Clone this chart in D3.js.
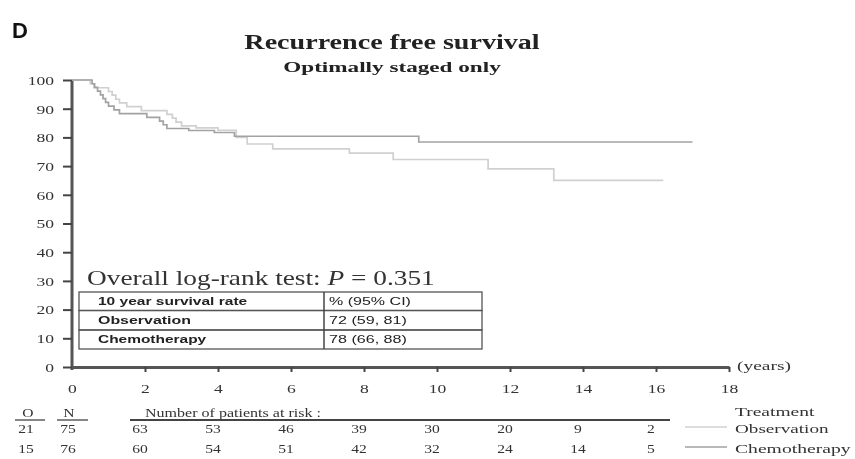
<!DOCTYPE html>
<html>
<head>
<meta charset="utf-8">
<script src="https://cdn.jsdelivr.net/npm/d3@7"></script>
<style>
  body { margin: 0; background: #fff; }
  svg { display: block; filter: blur(0.6px); }
  .serif { font-family: "Liberation Serif", "Times New Roman", serif; fill: #333; }
  .sans { font-family: "Liberation Sans", Arial, sans-serif; fill: #222; }
</style>
</head>
<body>
<div class="km"></div>
<script>
// values
const yTicks = [0, 10, 20, 30, 40, 50, 60, 70, 80, 90, 100]
const xTicks = [0, 2, 4, 6, 8, 10, 12, 14, 16, 18]

const chemoTimes = [0, 0.55, 0.62, 0.7, 0.78, 0.85, 0.92, 1.0, 1.15, 1.3, 2.05, 2.4, 2.5, 2.6, 3.2, 3.9, 4.45, 9.5, 17.0]
const chemoSurv  = [100, 98.7, 97.4, 96.1, 94.8, 93.5, 92.2, 90.9, 89.6, 88.3, 87.0, 85.7, 84.4, 83.1, 82.4, 81.7, 80.4, 78.4, 78.4]

const obsTimes = [0, 0.5, 0.6, 1.0, 1.1, 1.2, 1.3, 1.5, 1.9, 2.6, 2.75, 2.85, 3.0, 3.4, 4.0, 4.5, 4.8, 5.5, 7.6, 8.8, 11.4, 13.2, 16.2]
const obsSurv  = [100, 98.7, 97.3, 96.0, 94.7, 93.3, 92.0, 90.7, 89.3, 88.0, 86.7, 85.3, 84.0, 83.3, 82.5, 80.0, 77.7, 76.0, 74.5, 72.3, 69.0, 65.0, 65.0]

const riskTimes = [2, 4, 6, 8, 10, 12, 14, 16]
const obsAtRisk = [63, 53, 46, 39, 30, 20, 9, 2]
const chemoAtRisk = [60, 54, 51, 42, 32, 24, 14, 5]

const groups = ["Observation", "Chemotherapy"]
const groupEvents = [21, 15]
const groupN = [75, 76]
const groupColours = ["#d0d0d0", "#a2a2a2"]

const rateHeader = ["10 year survival rate", "% (95% CI)"]
const rates = ["72 (59, 81)", "78 (66, 88)"]

const width = 855, height = 459

const svg = d3.select(".km").append("svg")
    .attr("width", width)
    .attr("height", height)

const x = d3.scaleLinear().domain([0, 18]).range([72, 729])
const y = d3.scaleLinear().domain([0, 100]).range([367, 80])

// the picture is stretched sideways, so stretch the text to the same width
function fit(t, w) {
  const bw = t.node().getBBox().width
  const ax = +t.attr("x"), ay = +t.attr("y")
  t.attr("transform", "translate(" + ax + "," + ay + ") scale(" + (w / bw) + ",1) translate(" + (-ax) + "," + (-ay) + ")")
  return t
}
function stretch(t, sx) {
  const ax = +t.attr("x") || 0, ay = +t.attr("y") || 0
  t.attr("transform", "translate(" + ax + "," + ay + ") scale(" + sx + ",1) translate(" + (-ax) + "," + (-ay) + ")")
  return t
}

// titles
svg.append("text").attr("class", "sans")
    .attr("x", 12).attr("y", 38)
    .style("font-size", "22px").style("font-weight", "bold").style("fill", "#111")
    .text("D")

fit(svg.append("text").attr("class", "serif")
    .attr("x", 392).attr("y", 49).attr("text-anchor", "middle")
    .style("font-size", "20px").style("font-weight", "bold").style("fill", "#222")
    .text("Recurrence free survival"), 296)

fit(svg.append("text").attr("class", "serif")
    .attr("x", 392).attr("y", 72).attr("text-anchor", "middle")
    .style("font-size", "15.5px").style("font-weight", "bold").style("fill", "#222")
    .text("Optimally staged only"), 218)

// axes
const yAxis = d3.axisLeft(y).tickValues(yTicks).tickSize(9).tickPadding(9).tickSizeOuter(0)
const xAxis = d3.axisBottom(x).tickValues(xTicks).tickSize(5).tickPadding(11).tickSizeOuter(0)

const gy = svg.append("g").attr("transform", "translate(" + x(0) + ",0)").call(yAxis)
const gx = svg.append("g").attr("transform", "translate(0," + y(0) + ")").call(xAxis)

gy.select(".domain").attr("stroke", "#555").attr("stroke-width", 3).attr("d", "M0," + (y(0) + 3) + "V" + y(100))
gx.select(".domain").attr("stroke", "#555").attr("stroke-width", 3)
gy.selectAll(".tick line").attr("stroke", "#444").attr("stroke-width", 2)
gx.selectAll(".tick line").attr("stroke", "#444").attr("stroke-width", 2)
gx.selectAll(".tick line").filter(function(d) { return d === 0 }).remove()
svg.selectAll(".tick text")
    .attr("class", "serif")
    .style("font-size", "13.5px")
    .attr("fill", "#333")
    .each(function() { stretch(d3.select(this), 1.3) })

fit(svg.append("text").attr("class", "serif")
    .attr("x", x(18) + 8).attr("y", y(0) + 3)
    .style("font-size", "12px")
    .text("(years)"), 54)

// survival curves
const line = d3.line()
    .x(function(d) { return x(d[0]) })
    .y(function(d) { return y(d[1]) })
    .curve(d3.curveStepAfter)

const curves = [d3.zip(obsTimes, obsSurv), d3.zip(chemoTimes, chemoSurv)]
svg.selectAll(".curve").data(curves).enter().append("path")
    .attr("class", "curve")
    .attr("d", line)
    .attr("fill", "none")
    .attr("stroke", function(d, i) { return groupColours[i] })
    .attr("stroke-width", 1.7)

// log-rank text and rate box
const lr = svg.append("text").attr("class", "serif")
    .attr("x", 87).attr("y", 285)
    .style("font-size", "20px")
lr.append("tspan").text("Overall log-rank test: ")
lr.append("tspan").style("font-style", "italic").text("P")
lr.append("tspan").text(" = 0.351")
fit(lr, 348)

const box = { x0: 79, x1: 482, xm: 324, top: 292 }
const rowH = [18.5, 19.5, 19]
const leftW = [150, 93, 109]
const rightW = [82, 78, 78]
const rows = [rateHeader].concat(groups.map(function(g, i) { return [g, rates[i]] }))
let yy = box.top
rows.forEach(function(r, i) {
  svg.append("rect")
      .attr("x", box.x0).attr("y", yy)
      .attr("width", box.x1 - box.x0).attr("height", rowH[i])
      .attr("fill", "none").attr("stroke", "#555").attr("stroke-width", 1.3)
  fit(svg.append("text").attr("class", "sans")
      .attr("x", 98).attr("y", yy + rowH[i] / 2 + 3.5)
      .style("font-size", "10px").style("font-weight", "bold")
      .text(r[0]), leftW[i])
  fit(svg.append("text").attr("class", "sans")
      .attr("x", 329).attr("y", yy + rowH[i] / 2 + 3.5)
      .style("font-size", "10px")
      .text(r[1]), rightW[i])
  yy += rowH[i]
})
svg.append("line")
    .attr("x1", box.xm).attr("x2", box.xm)
    .attr("y1", box.top).attr("y2", yy)
    .attr("stroke", "#444").attr("stroke-width", 1.5)

// numbers at risk
const rowY = [433, 453]
const numSx = 1.2
stretch(svg.append("text").attr("class", "serif").attr("x", 28).attr("y", 417)
    .attr("text-anchor", "middle").style("font-size", "13px").text("O"), numSx)
stretch(svg.append("text").attr("class", "serif").attr("x", 69).attr("y", 417)
    .attr("text-anchor", "middle").style("font-size", "13px").text("N"), numSx)
svg.append("line").attr("x1", 15).attr("x2", 45).attr("y1", 420).attr("y2", 420)
    .attr("stroke", "#444").attr("stroke-width", 1.3)
svg.append("line").attr("x1", 57).attr("x2", 88).attr("y1", 420).attr("y2", 420)
    .attr("stroke", "#444").attr("stroke-width", 1.3)
fit(svg.append("text").attr("class", "serif").attr("x", 145).attr("y", 417)
    .style("font-size", "13px").text("Number of patients at risk :"), 176)
svg.append("line").attr("x1", 130).attr("x2", 670).attr("y1", 420).attr("y2", 420)
    .attr("stroke", "#444").attr("stroke-width", 1.8)

const risk = [obsAtRisk, chemoAtRisk]
risk.forEach(function(vals, gi) {
  stretch(svg.append("text").attr("class", "serif").attr("x", 26).attr("y", rowY[gi])
      .attr("text-anchor", "middle").style("font-size", "13px").text(groupEvents[gi]), numSx)
  stretch(svg.append("text").attr("class", "serif").attr("x", 68).attr("y", rowY[gi])
      .attr("text-anchor", "middle").style("font-size", "13px").text(groupN[gi]), numSx)
  svg.selectAll(".risk" + gi).data(vals).enter().append("text")
      .attr("class", "serif risk" + gi)
      .attr("x", function(d, i) { return x(riskTimes[i]) - 5 })
      .attr("y", rowY[gi])
      .attr("text-anchor", "middle")
      .style("font-size", "13px")
      .text(function(d) { return d })
      .each(function() { stretch(d3.select(this), numSx) })
})

// legend
fit(svg.append("text").attr("class", "serif").attr("x", 735).attr("y", 416)
    .style("font-size", "13px").text("Treatment"), 80)
const legendW = [94, 116]
groups.forEach(function(g, i) {
  svg.append("line")
      .attr("x1", 685).attr("x2", 727)
      .attr("y1", rowY[i] - 6).attr("y2", rowY[i] - 6)
      .attr("stroke", groupColours[i]).attr("stroke-width", 1.7)
  fit(svg.append("text").attr("class", "serif").attr("x", 735).attr("y", rowY[i])
      .style("font-size", "13.5px").text(g), legendW[i])
})
</script>
</body>
</html>
